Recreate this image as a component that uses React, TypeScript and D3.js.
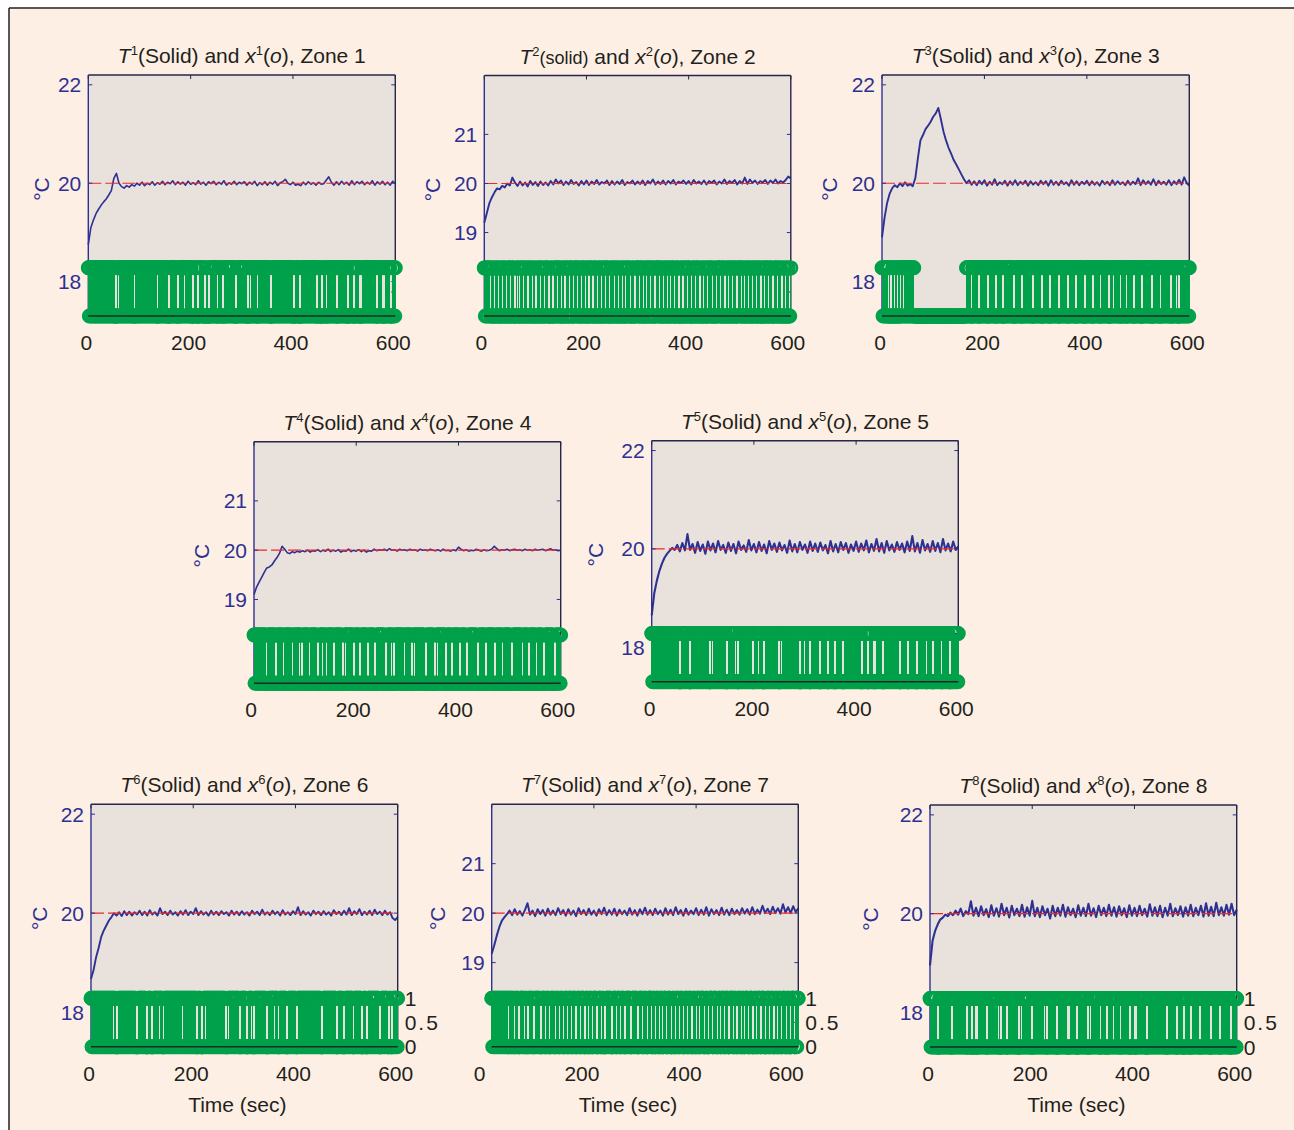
import React from "react";
import * as d3 from "d3";

// ---------- data ----------
const TEMP_STEP = 5; // seconds between temperature samples
const STATE_STEP = 1; // seconds between switching samples
const SETPOINT = 20;

const T1 = [
  18.75, 19.1, 19.25, 19.38, 19.47, 19.55, 19.62, 19.68, 19.76, 19.85,
  20.1, 20.2, 20.0, 19.93, 19.9, 19.95, 19.92, 19.97, 19.94, 20.0,
  19.96, 20.02, 19.95, 20.0, 19.97, 20.03, 19.96, 20.01, 19.98, 20.04,
  19.97, 20.02, 19.99, 20.05, 19.97, 20.03, 19.98, 20.02, 19.96, 20.04,
  19.98, 20.01, 19.97, 20.05, 19.98, 20.02, 19.96, 20.03, 19.99, 20.04,
  19.97, 20.02, 19.98, 20.05, 19.96, 20.01, 19.98, 20.04, 19.97, 20.02,
  19.99, 20.03, 19.96, 20.02, 19.98, 20.04, 19.95, 20.01, 19.97, 20.03,
  19.96, 20.02, 19.98, 20.04, 19.95, 20.01, 20.03, 20.08, 20.0, 19.97,
  20.02, 19.96, 19.98, 19.95, 20.02, 19.97, 20.03, 19.98, 20.01, 19.96,
  20.02, 19.98, 19.99, 20.06, 20.13, 20.02, 19.96, 20.03, 19.97, 20.04,
  19.98, 20.02, 19.96, 20.05, 19.97, 20.03, 19.99, 20.04, 19.97, 20.02,
  19.98, 20.05, 19.96, 20.03, 19.98, 20.04, 19.97, 20.02, 19.96, 20.04,
  19.99,
];
const T2 = [
  19.2, 19.4, 19.6, 19.72, 19.82, 19.9, 19.88, 19.95, 19.92, 20.0,
  19.96, 20.12, 20.02, 19.95, 20.04, 19.96, 20.02, 19.94, 20.05, 19.97,
  20.03, 19.95, 20.04, 19.97, 20.02, 19.96, 20.05, 19.98, 20.08, 20.0,
  20.06, 19.97, 20.04, 19.98, 20.07, 19.99, 20.03, 19.96, 20.05, 19.98,
  20.06, 19.97, 20.04, 19.99, 20.07, 19.98, 20.03, 20.0, 20.06, 19.97,
  20.05, 19.98, 20.04, 19.99, 20.07, 19.97, 20.03, 20.0, 20.06, 19.98,
  20.04, 19.99, 20.06, 19.97, 20.05, 20.0, 20.08, 19.98, 20.04, 19.99,
  20.06, 19.98, 20.05, 20.0, 20.07, 19.98, 20.04, 20.01, 20.06, 19.99,
  20.05, 19.98, 20.07, 20.0, 20.04, 19.99, 20.06, 19.98, 20.05, 20.01,
  20.06, 19.98, 20.04, 20.0, 20.08, 19.99, 20.05, 20.01, 20.07, 19.98,
  20.05, 20.0, 20.12, 19.99, 20.08, 20.01, 20.06, 19.99, 20.05, 20.02,
  20.07, 19.99, 20.06, 20.01, 20.08, 20.0, 20.05, 20.02, 20.07, 20.14,
  20.1,
];
const T3 = [
  18.9, 19.3, 19.6, 19.79, 19.9, 19.96, 19.92, 20.0, 19.94, 20.02,
  19.95, 19.98, 19.94, 20.1, 20.5, 20.87, 20.98, 21.1, 21.17, 21.25,
  21.35, 21.42, 21.53, 21.3, 21.05, 20.87, 20.72, 20.6, 20.47, 20.38,
  20.28, 20.18, 20.08, 20.0, 20.06, 19.97, 20.04, 19.96, 20.05, 19.98,
  20.06, 19.95, 20.03, 19.97, 20.08, 19.96, 20.02, 19.98, 20.05, 19.95,
  20.04, 19.97, 20.06, 19.96, 20.03, 19.98, 20.05, 19.95, 20.04, 19.97,
  20.02, 19.96, 20.05, 19.98, 20.04, 19.95, 20.06, 19.97, 20.03, 19.96,
  20.05, 19.98, 20.02, 19.95, 20.06, 19.97, 20.04, 19.96, 20.03, 19.98,
  20.05, 19.96, 20.04, 19.97, 20.02, 19.95, 20.05, 19.98, 20.03, 19.96,
  20.06, 19.97, 20.04, 19.98, 20.02, 19.96, 20.05, 19.97, 20.03, 19.98,
  20.1, 19.96, 20.06, 19.98, 20.04, 19.97, 20.08, 19.96, 20.05, 19.98,
  20.03, 19.97, 20.06, 19.96, 20.04, 19.98, 20.07, 19.97, 20.12, 20.0,
  19.95,
];
const T4 = [
  19.1, 19.25, 19.35, 19.45, 19.55, 19.64, 19.66, 19.7, 19.78, 19.85,
  19.94, 20.08, 20.02, 19.95, 19.93, 19.97, 19.95, 19.98, 19.96, 19.99,
  19.97, 20.0, 19.96, 19.99, 19.98, 20.01, 19.97, 20.0, 19.98, 20.02,
  19.97, 20.0, 19.98, 20.01, 19.96, 19.99, 19.98, 20.02, 19.97, 20.0,
  19.98, 20.01, 19.97, 20.0, 19.96, 19.99, 19.98, 20.02, 19.99, 20.01,
  20.0, 20.02, 19.99, 20.03, 20.0, 20.01, 19.98, 20.02, 20.0, 20.01,
  19.99, 20.02, 20.0, 20.01, 19.98, 20.02, 20.0, 20.01, 19.99, 20.02,
  20.0, 19.99, 20.01, 19.98, 20.02, 19.99, 20.0, 19.98, 20.01, 19.99,
  20.06, 20.02, 19.99, 20.01, 19.98, 20.0, 19.99, 20.02, 20.0, 19.98,
  20.01, 19.99, 20.0, 20.02, 20.08, 20.03, 19.99, 20.01, 20.0, 20.02,
  19.99, 20.01, 20.02, 20.0, 20.01, 19.99, 20.02, 20.0, 20.01, 19.99,
  20.02, 20.0, 20.01, 20.02, 19.99, 20.01, 20.03, 20.0, 20.01, 19.99,
  20.0,
];
const T5 = [
  18.65, 19.1, 19.35, 19.55, 19.7, 19.82, 19.9, 19.96, 20.02, 19.98,
  20.08, 19.95, 20.12, 19.97, 20.3, 19.98, 20.1, 19.92, 20.14, 19.96,
  20.09, 19.9, 20.15, 19.97, 20.11, 19.93, 20.16, 19.98, 20.08, 19.92,
  20.13, 19.96, 20.1, 19.91, 20.15, 19.98, 20.07, 19.94, 20.18, 19.97,
  20.1, 19.93, 20.14, 19.96, 20.09, 19.91, 20.16, 19.98, 20.11, 19.94,
  20.13, 19.97, 20.08, 19.92, 20.17, 19.95, 20.1, 19.93, 20.14, 19.98,
  20.09, 19.92, 20.15, 19.96, 20.11, 19.94, 20.13, 19.97, 20.08, 19.91,
  20.16, 19.95, 20.1, 19.93, 20.14, 19.98, 20.12, 19.92, 20.09, 19.96,
  20.15, 19.94, 20.11, 19.97, 20.17, 19.93, 20.1, 19.96, 20.2, 19.95,
  20.12, 19.92, 20.16, 19.97, 20.09, 19.94, 20.14, 19.98, 20.11, 19.93,
  20.15, 19.96, 20.26, 19.95, 20.12, 19.92, 20.18, 19.97, 20.1, 19.94,
  20.16, 19.96, 20.12, 19.93, 20.2, 19.97, 20.11, 19.95, 20.15, 19.98,
  20.05,
];
const T6 = [
  18.67, 18.85, 19.11, 19.3, 19.52, 19.65, 19.75, 19.85, 19.92, 20.0,
  19.95, 20.02, 19.94, 20.04, 19.96, 20.03, 19.95, 20.02, 19.97, 20.05,
  19.96, 20.03, 19.95, 20.06, 19.97, 20.02, 19.95, 20.1, 19.98, 20.03,
  19.96, 20.05, 19.97, 20.02, 19.95, 20.04, 19.97, 20.06, 19.96, 20.03,
  19.98, 20.1, 19.96, 20.04, 19.97, 20.02, 19.95, 20.05, 19.97, 20.03,
  19.96, 20.04, 19.98, 20.02, 19.95, 20.05, 19.97, 20.03, 19.96, 20.04,
  19.97, 20.02, 19.95, 20.05, 19.98, 20.03, 19.96, 20.07, 19.97, 20.02,
  19.96, 20.05, 19.98, 20.03, 19.95, 20.06, 19.97, 20.02, 19.96, 20.04,
  19.98, 20.12, 19.96, 20.04, 19.97, 20.02, 19.95, 20.05, 19.98, 20.03,
  19.96, 20.04, 19.97, 20.02, 19.95, 20.06, 19.98, 20.03, 19.96, 20.05,
  19.97, 20.1, 19.96, 20.04, 19.98, 20.08, 19.96, 20.03, 19.97, 20.05,
  19.96, 20.07, 19.98, 20.03, 19.96, 20.05, 19.97, 20.02, 19.9, 19.86,
  19.92,
];
const T7 = [
  19.18, 19.35, 19.55, 19.72, 19.85, 19.92, 19.98, 20.05, 19.96, 20.08,
  19.97, 20.04, 19.95, 20.06, 20.2, 19.97, 20.05, 19.94, 20.08, 19.98,
  20.06, 19.95, 20.09, 19.97, 20.05, 19.96, 20.1, 19.98, 20.06, 19.95,
  20.08, 19.97, 20.05, 19.94, 20.1, 19.98, 20.06, 19.96, 20.09, 19.97,
  20.05, 19.95, 20.08, 19.98, 20.11, 19.96, 20.06, 19.97, 20.09, 19.95,
  20.07, 19.98, 20.05, 19.96, 20.1, 19.97, 20.06, 19.95, 20.08, 19.98,
  20.11, 19.97, 20.06, 19.96, 20.09, 19.98, 20.05, 19.95, 20.1, 19.97,
  20.07, 19.96, 20.12, 19.98, 20.06, 19.95, 20.09, 19.97, 20.05, 19.98,
  20.1, 19.96, 20.07, 19.97, 20.12, 19.95, 20.08, 19.98, 20.06, 19.96,
  20.11, 19.97, 20.07, 19.96, 20.09, 19.98, 20.06, 19.97, 20.1, 19.99,
  20.08, 19.97, 20.12, 19.98, 20.07, 19.99, 20.15, 20.0, 20.09, 19.98,
  20.13, 20.0, 20.1, 19.99, 20.18, 20.01, 20.12, 20.0, 20.14, 20.02,
  20.1,
];
const T8 = [
  18.95, 19.45, 19.65, 19.78, 19.88, 19.92, 19.98, 19.95, 20.02, 19.97,
  20.06, 19.98, 20.1, 19.95, 20.05, 19.99, 20.25, 19.96, 20.12, 19.95,
  20.15, 19.97, 20.09, 19.93, 20.17, 19.96, 20.11, 19.94, 20.2, 19.97,
  20.12, 19.92, 20.16, 19.97, 20.1, 19.95, 20.18, 19.94, 20.13, 19.96,
  20.26, 19.95, 20.12, 19.93, 20.15, 19.97, 20.1, 19.9, 20.16, 19.95,
  20.12, 19.96, 20.18, 19.94, 20.13, 19.97, 20.1, 19.93, 20.17, 19.96,
  20.12, 19.95, 20.2, 19.96, 20.11, 19.93, 20.16, 19.97, 20.12, 19.95,
  20.18, 19.96, 20.13, 19.94, 20.15, 19.97, 20.11, 19.93, 20.17, 19.96,
  20.12, 19.95, 20.16, 19.97, 20.1, 19.94, 20.19, 19.96, 20.13, 19.95,
  20.16, 19.93, 20.12, 19.96, 20.2, 19.95, 20.11, 19.97, 20.15, 19.94,
  20.13, 19.96, 20.18, 19.95, 20.12, 19.97, 20.16, 19.94, 20.21, 19.96,
  20.14, 19.95, 20.22, 19.97, 20.13, 19.96, 20.18, 19.98, 20.2, 19.97,
  20.08,
];

// switching signals x^i, one character per second (0 = off, 1 = on)
const X1 = [
  "1101101101", "1011011011", "0110110110", "1101101101", "1011011011",
  "0100000110", "1101101101", "1011011011", "0110110110", "0001101101",
  "1011011011", "0110110110", "1101101101", "1011000011", "0110110110",
  "1101100000", "1011011011", "0110000010", "1101101101", "1011011011",
  "0100000110", "1100000101", "1011010000", "0110000010", "1101101101",
  "1000011011", "0100000110", "1101101101", "1011010000", "0110110110",
  "1101101101", "0000011011", "0110110110", "0001101101", "1011011011",
  "0110100000", "1101101101", "1011011011", "0110110110", "1101101101",
  "0000011011", "0100000110", "1101101101", "1011011011", "0110110000",
  "1101000001", "1011000011", "0110110110", "1101100001", "1011011011",
  "0110100000", "1101101100", "0011011011", "0000010110", "1101101101",
  "1011011011", "0110000110", "1101100000", "1011011011", "0000110110",
  "1",
].join("");
const X2 = [
  "1101101101", "1100011010", "0011011000", "1101000110", "1100001101",
  "1000110110", "0001101100", "0110110001", "1011000011", "1010001101",
  "0000110110", "0011010001", "1101100001", "1010000111", "0110011011",
  "0000111000", "1101100011", "0110000111", "1100011010", "0011011000",
  "1101000111", "1000011011", "0000110100", "0110110001", "1101000011",
  "0110001101", "1000011010", "0011010001", "1101100001", "1010000111",
  "1100011011", "0000111000", "1101100011", "0110000111", "1100011010",
  "0011011000", "1101000111", "1000011011", "0000110100", "0110110001",
  "1101000011", "0110001101", "1000011010", "0011010001", "1101100001",
  "1010000111", "1100011011", "0000111000", "1101100011", "0110000111",
  "1100011010", "0011011000", "1101000111", "1000011011", "0000110100",
  "0110110001", "1101000011", "0110001101", "1000011010", "0011010001",
  "1",
].join("");
const X3 = [
  "1101101101", "1000110000", "0110000110", "0001100011", "1101101101",
  "1011011011", "0110000000", "0000000000", "0000000000", "0000000000",
  "0000000000", "0000000000", "0000000000", "0000000000", "0000000000",
  "0000000000", "0000011011", "0110000110", "1101101100", "0011011011",
  "0110110000", "1101101101", "1000011011", "0110100000", "1101101101",
  "1011010000", "0110110110", "1100001101", "1011011011", "0110000110",
  "1101101101", "1000011011", "0110110000", "1101101101", "1011000011",
  "0110110110", "1100001101", "1011011000", "0110110110", "1101000001",
  "1011011011", "0000110110", "1101100001", "1011011011", "0100000110",
  "1101101101", "1011000011", "0110110000", "1101101101", "1000011011",
  "0110100000", "1101101101", "1011010000", "0110110110", "1100001101",
  "1011011011", "0110000110", "1101101100", "0011011011", "0110110110",
  "1",
].join("");
const X4 = [
  "1101101101", "1011011011", "0110000110", "1101101101", "1000011011",
  "0110110000", "1101101101", "1011000011", "0110110110", "1100001101",
  "1011011000", "0110110110", "1101000001", "1011011011", "0000110110",
  "1101100001", "1011011011", "0100000110", "1101101101", "1011000011",
  "0110110000", "1101101101", "1000011011", "0110100000", "1101101101",
  "1011010000", "0110110110", "1100001101", "1011011011", "0110000110",
  "1101101100", "0011011011", "0110110110", "1101000001", "1011011011",
  "0100000110", "1101101101", "1011000011", "0110110000", "1101101101",
  "1000011011", "0110100000", "1101101101", "1011010000", "0110110110",
  "1100001101", "1011011011", "0000110110", "1101100001", "1011011011",
  "0100000110", "1101101101", "1011000011", "0110110000", "1101101101",
  "1000011011", "0110100000", "1101101101", "1011010000", "0110110110",
  "1",
].join("");
const X5 = [
  "1101101101", "1011011011", "0110110110", "1101101101", "1011011011",
  "0110000010", "1101101101", "1010000011", "0110110110", "1101101101",
  "1011011011", "0100000110", "1101101101", "1011011011", "0110100000",
  "1101101101", "1011011000", "0010110110", "1101101101", "1011011000",
  "0110110110", "1101101000", "0011011011", "0110110110", "1101101100",
  "0001011011", "0110110110", "1101101101", "1011011010", "0000110110",
  "1101101100", "0011011011", "0110110100", "0001101101", "1011000011",
  "0110110000", "0101101101", "1010000011", "0110110110", "1101101101",
  "1011011010", "0000110110", "1100001101", "1011000001", "0110110110",
  "1000001101", "1011011011", "0110110110", "1101000001", "1011011011",
  "0000110110", "1101101000", "0011011011", "0110110000", "1101101100",
  "0001011011", "0110110000", "1101101101", "1000001011", "0110110110",
  "1",
].join("");
const X6 = [
  "1101101101", "1011011011", "0110110110", "1101101101", "1011011010",
  "0000110110", "1101101101", "1011011011", "0110110100", "0001101101",
  "1011011000", "0010110100", "0001101101", "1011011011", "0000110110",
  "1101101101", "1011011011", "0110110110", "1101101101", "1011011011",
  "0110110000", "1101100000", "1011011011", "0110110110", "1101101101",
  "1011011011", "0110000010", "1101101101", "1011011011", "0000110110",
  "1101000001", "1011010000", "0110110110", "1101101101", "1010000011",
  "0110110110", "1101100001", "1011011011", "0100000110", "1101101101",
  "1000011011", "0110110110", "1101101101", "1011011011", "0110110110",
  "0000101101", "1011011011", "0110110110", "0000101101", "1010000011",
  "0110110110", "1100001101", "1011011010", "0000110100", "0001101101",
  "1011011011", "0110000010", "1101101101", "1000011000", "0110110110",
  "1",
].join("");
const X7 = [
  "1101101101", "1011011011", "0110110110", "1100011010", "1101000110",
  "1100001101", "1011000110", "0001101101", "1000011011", "0110100001",
  "1011000110", "1100001101", "1010001101", "1000110110", "0001101100",
  "0110110001", "1011000011", "0110001101", "1000011010", "0011010001",
  "1101100001", "1011000110", "0000110110", "1101000011", "0110001101",
  "1000110110", "0001101101", "1000011011", "0110100001", "1101100011",
  "0110000111", "1100011010", "0011011000", "1101000111", "1000011011",
  "0000110100", "0110110001", "1101000011", "0110001101", "1000011010",
  "0011010001", "1101100001", "1010000111", "1100011011", "0000111000",
  "1101100011", "0110000111", "1100011010", "0011011000", "1101000111",
  "1000011011", "0000110100", "0110110001", "1101000011", "0110001101",
  "1000011010", "0011010001", "1101100001", "1010000111", "1100011011",
  "1",
].join("");
const X8 = [
  "1101101101", "1011000001", "0110110110", "1101101101", "1000011011",
  "0110110110", "1101101101", "1000011011", "0000010110", "0000101101",
  "1011011011", "0000110110", "1101101101", "1011010000", "0110110110",
  "0001101101", "1011011011", "0100000110", "1101101101", "1011011000",
  "0010110110", "1101101101", "1011011000", "0110110110", "1101101000",
  "0011011011", "0110110110", "0000101101", "1011010000", "0110110110",
  "1101101100", "0001011011", "0110110110", "1100001101", "1011000001",
  "0110110110", "1101101101", "1000011011", "0110110110", "0000101101",
  "0000011011", "0110110110", "1100000101", "1011011011", "0110110110",
  "1101101101", "1000001011", "0110110110", "1100001101", "1011000001",
  "0110110100", "0001101101", "1011011000", "0110110110", "1101101000",
  "0011011011", "0110110000", "1101101101", "1011010000", "0110110110",
  "1",
].join("");

const ZONE_IDS = [1, 2, 3, 4, 5, 6, 7, 8];
const ZONE_TEMPS = [T1, T2, T3, T4, T5, T6, T7, T8];
const ZONE_STATES = [X1, X2, X3, X4, X5, X6, X7, X8];
const SOLID_WORDS = ["Solid", "solid", "Solid", "Solid", "Solid", "Solid", "Solid", "Solid"];
const Y_TICKS = [
  [18, 20, 22], [19, 20, 21], [18, 20, 22], [19, 20, 21],
  [18, 20, 22], [18, 20, 22], [19, 20, 21], [18, 20, 22],
];
const X_TICKS = [0, 200, 400, 600];
const RIGHT_TICKS = [0, 0.5, 1];
const RIGHT_TICK_LABELS = ["0", "0.5", "1"];
const X_DOMAIN = [0, 600];
const Y_DOMAIN = [17.3, 22.2];
const Y2_DOMAIN = [0, 5];

// ---------- layout / style ----------
const LAYOUT = [
  { left: 88.3, top: 75, w: 307, h: 241, ylab: -47, xs: -2, bottom: false, lw: 1.6 },
  { left: 484.3, top: 75.5, w: 306.5, h: 240.5, ylab: -52, xs: -3, bottom: false, lw: 1.9 },
  { left: 882, top: 75, w: 307.3, h: 241, ylab: -53, xs: -2, bottom: false, lw: 1.9 },
  { left: 254, top: 441.7, w: 306.7, h: 241.6, ylab: -52.5, xs: -3, bottom: false, lw: 1.6 },
  { left: 651.7, top: 440.7, w: 306.6, h: 241, ylab: -56, xs: -2, bottom: false, lw: 2.1 },
  { left: 91, top: 804.3, w: 306.7, h: 242.4, ylab: -51.5, xs: -2, bottom: true, lw: 1.9 },
  { left: 491.7, top: 804.3, w: 306.6, h: 242.4, ylab: -54, xs: -12, bottom: true, lw: 2.0 },
  { left: 930, top: 805, w: 306.7, h: 242, ylab: -60, xs: -2, bottom: true, lw: 2.1 },
];

const FONT = "'Liberation Sans', Arial, Helvetica, sans-serif";
const PEACH = "#FDEFE3";
const PLOT_BG = "#E8E1DC";
const NAVY = "#2E3192";
const GREEN = "#00A14B";
const RED = "#EE2A24";
const INK = "#231F20";
const BOX = "#26264A";

function Panel({ idx }: { idx: number }) {
  const L = LAYOUT[idx];
  const temps = ZONE_TEMPS[idx];
  const states = ZONE_STATES[idx].split("").map(Number);
  const zone = ZONE_IDS[idx];

  const x = d3.scaleLinear().domain(X_DOMAIN).range([L.left, L.left + L.w]);
  const xl = d3.scaleLinear().domain(X_DOMAIN).range([L.left + L.xs, L.left + L.w + L.xs]);
  const y = d3.scaleLinear().domain(Y_DOMAIN).range([L.top + L.h, L.top]);
  const y2 = d3.scaleLinear().domain(Y2_DOMAIN).range([L.top + L.h, L.top]);

  const line = d3
    .line<number>()
    .x((_, i) => x(i * TEMP_STEP))
    .y((d) => y(d));

  const samples = states
    .map((v, i) => ({ t: i * STATE_STEP, v }))
    .filter((s) => s.t <= X_DOMAIN[1]);

  const right = L.left + L.w;
  const bottomY = L.top + L.h;
  const cx = L.left + L.w / 2;

  const stemPath = samples
    .filter((s) => s.v > 0)
    .map((s) => `M${x(s.t)},${y2(0)}V${y2(s.v)}`)
    .join("");

  return (
    <g>
      <rect x={L.left} y={L.top} width={L.w} height={L.h} fill={PLOT_BG} />
      <path d={line(temps) || ""} fill="none" stroke={NAVY} strokeWidth={L.lw} strokeLinejoin="round" />
      <line
        x1={x(X_DOMAIN[0])}
        x2={x(X_DOMAIN[1])}
        y1={y(SETPOINT)}
        y2={y(SETPOINT)}
        stroke={RED}
        strokeWidth={1.1}
        strokeDasharray="13 4"
      />
      {/* axes box */}
      <line x1={L.left} x2={right} y1={L.top} y2={L.top} stroke={BOX} strokeWidth={1.4} />
      <line x1={right} x2={right} y1={L.top} y2={bottomY} stroke={BOX} strokeWidth={1.4} />
      <line x1={L.left} x2={L.left} y1={L.top} y2={bottomY} stroke={NAVY} strokeWidth={1.4} />
      {Y_TICKS[idx].map((t) => (
        <g key={"yt" + t}>
          <line x1={L.left} x2={L.left + 4} y1={y(t)} y2={y(t)} stroke={NAVY} strokeWidth={1} />
          <line x1={right} x2={right - 4} y1={y(t)} y2={y(t)} stroke={NAVY} strokeWidth={1} />
        </g>
      ))}
      {X_TICKS.map((t) => (
        <line key={"xt" + t} x1={x(t)} x2={x(t)} y1={L.top} y2={L.top + 4} stroke={BOX} strokeWidth={1} />
      ))}
      {RIGHT_TICKS.map((t) => (
        <line key={"rt" + t} x1={right} x2={right - 4} y1={y2(t)} y2={y2(t)} stroke={BOX} strokeWidth={1} />
      ))}
      {/* stems */}
      <path d={stemPath} fill="none" stroke={GREEN} strokeWidth={1} shapeRendering="crispEdges" />
      {samples.map((s) => (
        <circle key={"c" + s.t} cx={x(s.t)} cy={y2(s.v)} r={6.5} fill="none" stroke={GREEN} strokeWidth={2} />
      ))}
      <line
        x1={x(X_DOMAIN[0])}
        x2={x(X_DOMAIN[1])}
        y1={y2(0)}
        y2={y2(0)}
        stroke="#1B2A22"
        strokeWidth={1.6}
      />
      {/* labels */}
      {Y_TICKS[idx].map((t) => (
        <text
          key={"yl" + t}
          x={L.left - 7}
          y={y(t)}
          dy="0.36em"
          textAnchor="end"
          fontSize={21}
          fill={NAVY}
        >
          {t}
        </text>
      ))}
      {X_TICKS.map((t) => (
        <text key={"xl" + t} x={xl(t)} y={bottomY + 34} textAnchor="middle" fontSize={21} fill={INK}>
          {t}
        </text>
      ))}
      <text
        transform={`translate(${L.left + L.ylab},${L.top + 114}) rotate(-90)`}
        textAnchor="middle"
        dy="0.36em"
        fontSize={21}
        fill={NAVY}
      >
        °C
      </text>
      <text x={cx} y={L.top - 12} textAnchor="middle" fontSize={21} fill={INK}>
        <tspan fontStyle="italic">T</tspan>
        <tspan fontSize={13} dy={-8}>
          {zone}
        </tspan>
        <tspan dy={8} fontSize={zone === 2 ? 18 : 21}>
          ({SOLID_WORDS[idx]})
        </tspan>
        <tspan> and </tspan>
        <tspan fontStyle="italic">x</tspan>
        <tspan fontSize={13} dy={-8}>
          {zone}
        </tspan>
        <tspan dy={8}>(</tspan>
        <tspan fontStyle="italic">o</tspan>
        <tspan>), Zone {zone}</tspan>
      </text>
      {L.bottom && (
        <g>
          {RIGHT_TICKS.map((t, i) => (
            <text
              key={"rl" + t}
              x={right + 7}
              y={y2(t)}
              dy="0.36em"
              fontSize={21}
              fill={INK}
              letterSpacing={t === 0.5 ? 2 : 0}
            >
              {RIGHT_TICK_LABELS[i]}
            </text>
          ))}
          <text x={cx - 7 + (L.xs + 2)} y={bottomY + 65} textAnchor="middle" fontSize={21} fill={INK}>
            Time (sec)
          </text>
        </g>
      )}
    </g>
  );
}

export default function App() {
  return (
    <svg
      width={1294}
      height={1130}
      style={{ position: "absolute", left: 0, top: 0, fontFamily: FONT }}
      fontFamily={FONT}
    >
      <rect x={9} y={8} width={1285} height={1122} fill={PEACH} />
      <line x1={9} x2={1294} y1={8} y2={8} stroke={INK} strokeWidth={1.5} />
      <line x1={9} x2={9} y1={8} y2={1130} stroke={INK} strokeWidth={1.5} />
      {ZONE_IDS.map((z, i) => (
        <Panel key={z} idx={i} />
      ))}
    </svg>
  );
}
